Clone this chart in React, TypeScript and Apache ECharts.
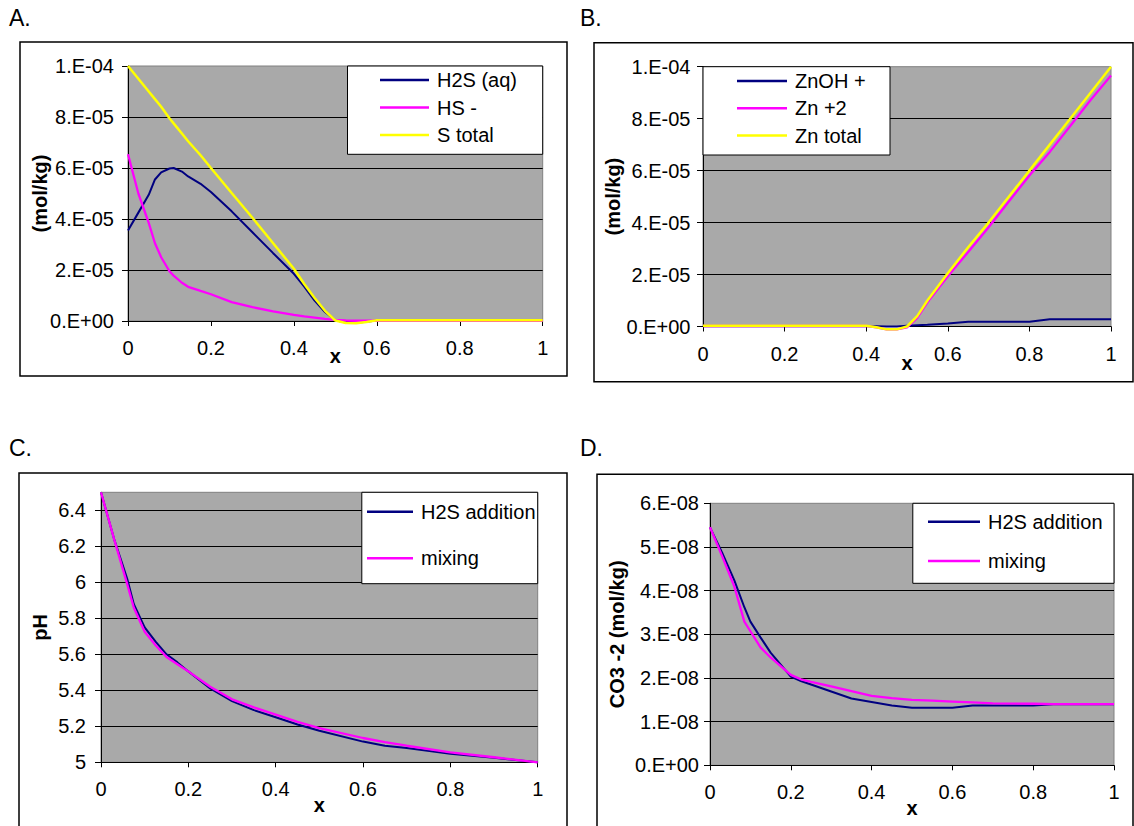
import React, { useEffect, useRef } from "react";
import * as echarts from "echarts";

const FONT = '"Liberation Sans", Arial, Helvetica, sans-serif';

// ---------- Panel A : sulfur species ----------
const aX = [0, 0.025, 0.05, 0.065, 0.08, 0.1, 0.11, 0.13, 0.145, 0.175, 0.2, 0.25, 0.3, 0.35, 0.4, 0.425, 0.45, 0.475, 0.5, 0.525, 0.55, 0.575, 0.6, 0.7, 0.8, 0.9, 1];
const aH2S = [3.55e-5, 4.25e-5, 4.95e-5, 5.55e-5, 5.83e-5, 5.98e-5, 6.0e-5, 5.86e-5, 5.67e-5, 5.38e-5, 5.06e-5, 4.3e-5, 3.48e-5, 2.66e-5, 1.85e-5, 1.35e-5, 8.0e-6, 3.5e-6, 3e-7, -6e-7, -7e-7, -3e-7, 2e-7, 2e-7, 2e-7, 2e-7, 2e-7];
const aHS = [6.54e-5, 5.0e-5, 3.85e-5, 3.05e-5, 2.5e-5, 1.95e-5, 1.78e-5, 1.5e-5, 1.34e-5, 1.18e-5, 1.05e-5, 7.4e-6, 5.4e-6, 3.8e-6, 2.4e-6, 1.8e-6, 1.3e-6, 8e-7, 4e-7, 2e-7, 1e-7, 1e-7, 1e-7, 1e-7, 1e-7, 1e-7, 1e-7];
const aStot = [1.0e-4, 9.5e-5, 9.0e-5, 8.7e-5, 8.4e-5, 7.95e-5, 7.75e-5, 7.35e-5, 7.05e-5, 6.5e-5, 6.0e-5, 5.02e-5, 4.05e-5, 3.05e-5, 2.05e-5, 1.45e-5, 9.0e-6, 4.0e-6, 2e-7, -8e-7, -9e-7, -4e-7, 3e-7, 3e-7, 3e-7, 3e-7, 3e-7];

// ---------- Panel B : zinc species ----------
const bX = [0, 0.1, 0.2, 0.3, 0.4, 0.425, 0.45, 0.475, 0.5, 0.525, 0.55, 0.6, 0.65, 0.7, 0.75, 0.8, 0.85, 0.9, 0.95, 1];
const bZnOH = [1e-7, 1e-7, 1e-7, 1e-7, 1e-7, 5e-8, 0, 0, 3e-7, 5e-7, 7e-7, 1.2e-6, 1.8e-6, 1.8e-6, 1.8e-6, 1.85e-6, 2.8e-6, 2.8e-6, 2.8e-6, 2.8e-6];
const bZn2 = [2e-7, 2e-7, 2e-7, 2e-7, 2e-7, -3e-7, -1.1e-6, -1.1e-6, -3e-7, 3.3e-6, 9.3e-6, 1.93e-5, 2.87e-5, 3.82e-5, 4.82e-5, 5.81e-5, 6.72e-5, 7.72e-5, 8.72e-5, 9.66e-5];
const bZnTot = [3e-7, 3e-7, 3e-7, 3e-7, 3e-7, -3e-7, -1.1e-6, -1.1e-6, 0, 4.0e-6, 1.0e-5, 2.05e-5, 3.05e-5, 4.0e-5, 5.0e-5, 6.0e-5, 7.0e-5, 8.0e-5, 9.0e-5, 1.0e-4];

// ---------- Panel C : pH ----------
const cX = [0, 0.03, 0.06, 0.075, 0.1, 0.125, 0.15, 0.175, 0.2, 0.25, 0.3, 0.35, 0.4, 0.45, 0.5, 0.6, 0.65, 0.7, 0.8, 0.9, 1];
const cH2S = [6.5, 6.24, 6.02, 5.88, 5.75, 5.67, 5.6, 5.555, 5.505, 5.41, 5.34, 5.29, 5.25, 5.21, 5.175, 5.115, 5.092, 5.08, 5.048, 5.025, 5.0];
const cMix = [6.5, 6.24, 5.99, 5.86, 5.725, 5.65, 5.585, 5.545, 5.505, 5.42, 5.35, 5.305, 5.265, 5.225, 5.19, 5.135, 5.112, 5.092, 5.055, 5.028, 5.0];

// ---------- Panel D : CO3 -2 ----------
const dX = [0, 0.03, 0.06, 0.085, 0.1, 0.125, 0.15, 0.2, 0.225, 0.25, 0.3, 0.35, 0.4, 0.45, 0.5, 0.55, 0.6, 0.65, 0.7, 0.8, 0.85, 0.9, 1];
const dH2S = [5.45e-8, 4.87e-8, 4.24e-8, 3.62e-8, 3.29e-8, 2.93e-8, 2.58e-8, 2.03e-8, 1.93e-8, 1.85e-8, 1.69e-8, 1.53e-8, 1.45e-8, 1.37e-8, 1.32e-8, 1.32e-8, 1.32e-8, 1.37e-8, 1.37e-8, 1.37e-8, 1.4e-8, 1.4e-8, 1.4e-8];
const dMix = [5.45e-8, 4.79e-8, 4.1e-8, 3.29e-8, 3.07e-8, 2.7e-8, 2.47e-8, 2.07e-8, 1.97e-8, 1.91e-8, 1.81e-8, 1.7e-8, 1.59e-8, 1.54e-8, 1.5e-8, 1.48e-8, 1.46e-8, 1.44e-8, 1.42e-8, 1.41e-8, 1.4e-8, 1.4e-8, 1.4e-8];

const xTicks = { min: 0, max: 1, interval: 0.2 };

const NAVY = "#000080";
const MAGENTA = "#FF00FF";
const YELLOW = "#FFFF00";
const PLOT_BG = "#A9A9A9";
const TICK_FS = 20;
const LEG_FS = 20;

function pairs(xs: number[], ys: number[]) {
  return xs.map((x, i) => [x, ys[i]]);
}

function sci(v: number): string {
  if (Math.abs(v) < 1e-20) return "0.E+00";
  let e = Math.floor(Math.log10(Math.abs(v)) + 1e-9);
  let m = Math.round(v / Math.pow(10, e));
  if (Math.abs(m) >= 10) {
    m = m / 10;
    e += 1;
  }
  const sign = e < 0 ? "-" : "+";
  return `${m}.E${sign}${String(Math.abs(e)).padStart(2, "0")}`;
}

const grids = [
  { left: 128, top: 66, width: 414.7, height: 255 },
  { left: 703, top: 66.7, width: 408, height: 259.8 },
  { left: 101, top: 492.3, width: 436.7, height: 270 },
  { left: 710, top: 503.3, width: 404, height: 262 },
];

function xAxisFor(i: number, nameGap: number) {
  return {
    type: "value",
    gridIndex: i,
    ...xTicks,
    axisLine: { show: true, onZero: false, lineStyle: { color: "#000", width: 1 } },
    axisTick: { show: true, length: 5, lineStyle: { color: "#000" } },
    axisLabel: { fontSize: TICK_FS, color: "#000", fontFamily: FONT, margin: 17 },
    splitLine: { show: false },
    name: "x",
    nameLocation: "middle",
    nameGap,
    nameMoveOverlap: false,
    nameTextStyle: { fontSize: 20, fontWeight: "bold", color: "#000", fontFamily: FONT },
  };
}

function yAxisFor(i: number, o: any) {
  return {
    type: "value",
    gridIndex: i,
    min: o.min,
    max: o.max,
    interval: o.interval,
    axisLine: { show: true, onZero: false, lineStyle: { color: "#000", width: 1 } },
    axisTick: { show: true, length: 6, lineStyle: { color: "#000" } },
    axisLabel: {
      fontSize: TICK_FS,
      color: "#000",
      fontFamily: FONT,
      margin: o.margin,
      showMaxLabel: o.showMaxLabel !== false,
      formatter: o.formatter,
    },
    splitLine: { show: true, showMaxLine: false, lineStyle: { color: "#000", width: 1 } },
    name: o.name,
    nameLocation: "middle",
    nameRotate: 90,
    nameGap: o.nameGap,
    nameMoveOverlap: false,
    nameTextStyle: { fontSize: 20, fontWeight: "bold", color: "#000", fontFamily: FONT },
  };
}

function line(name: string, i: number, xs: number[], ys: number[], color: string, width = 2) {
  return {
    type: "line",
    name,
    xAxisIndex: i,
    yAxisIndex: i,
    data: pairs(xs, ys),
    symbol: "none",
    clip: false,
    lineStyle: { color, width },
    itemStyle: { color },
  };
}

function legendFor(names: string[], left: number, top: number, itemWidth: number, itemGap: number) {
  return {
    data: names.map((n) => ({ name: n, icon: "rect" })),
    orient: "vertical",
    left,
    top,
    itemWidth,
    itemHeight: 2.5,
    itemGap,
    padding: 0,
    selectedMode: false,
    textStyle: { fontSize: LEG_FS, color: "#000", fontFamily: FONT, padding: [0, 0, 0, 3] },
  };
}

function boxRect(x: number, y: number, w: number, h: number, lw: number, fill: string, z: number) {
  return {
    type: "rect",
    z,
    shape: { x, y, width: w, height: h },
    style: { fill, stroke: "#000", lineWidth: lw },
  };
}

function panelLabel(text: string, x: number, y: number) {
  return {
    type: "text",
    x,
    y,
    style: { text, fontSize: 23, fontFamily: FONT, fill: "#000", verticalAlign: "middle", align: "left" },
  };
}

export default function App() {
  const ref = useRef<HTMLDivElement>(null);

  useEffect(() => {
    if (!ref.current) return;
    const chart = echarts.init(ref.current, undefined, { renderer: "svg" });
    const option: any = {
      animation: false,
      textStyle: { fontFamily: FONT },
      grid: grids.map((g) => ({
        ...g,
        show: true,
        backgroundColor: PLOT_BG,
        borderColor: "#808080",
        borderWidth: 1,
        containLabel: false,
      })),
      xAxis: [xAxisFor(0, 25), xAxisFor(1, 26), xAxisFor(2, 32.5), xAxisFor(3, 33)],
      yAxis: [
        yAxisFor(0, { min: 0, max: 1e-4, interval: 2e-5, margin: 14, formatter: sci, name: "(mol/kg)", nameGap: 78.5 }),
        yAxisFor(1, { min: 0, max: 1e-4, interval: 2e-5, margin: 12.5, formatter: sci, name: "(mol/kg)", nameGap: 80 }),
        yAxisFor(2, { min: 5, max: 6.5, interval: 0.2, margin: 15, showMaxLabel: false, name: "pH", nameGap: 51.5 }),
        yAxisFor(3, { min: 0, max: 6e-8, interval: 1e-8, margin: 11, formatter: sci, name: "CO3 -2 (mol/kg)", nameGap: 83 }),
      ],
      legend: [
        legendFor(["H2S (aq)", "HS -", "S total"], 380, 70, 49, 7.5),
        legendFor(["ZnOH +", "Zn +2", "Zn total"], 737, 71, 50, 7.3),
        legendFor(["H2S addition", "mixing"], 367, 501.7, 46, 26.6),
        legendFor(["H2S addition", "mixing"], 928, 511.7, 52, 19.3),
      ],
      graphic: [
        boxRect(20, 42, 547, 334, 1.5, "none", 0),
        boxRect(594, 42.7, 539, 339, 1.5, "none", 0),
        boxRect(19, 473, 548, 400, 1.5, "none", 0),
        boxRect(597, 474.3, 536, 400, 1.5, "none", 0),
        boxRect(347.5, 66, 195.2, 88.3, 1, "#fff", 3),
        boxRect(703, 66.7, 187, 88.3, 1, "#fff", 3),
        boxRect(361.8, 492.3, 175.9, 91.4, 1, "#fff", 3),
        boxRect(912.8, 503.3, 201.2, 80, 1, "#fff", 3),
        panelLabel("A.", 9, 18),
        panelLabel("B.", 580, 18),
        panelLabel("C.", 9, 448),
        panelLabel("D.", 580, 448),
      ],
      series: [
        line("H2S (aq)", 0, aX, aH2S, NAVY, 2),
        line("HS -", 0, aX, aHS, MAGENTA, 2.3),
        line("S total", 0, aX, aStot, YELLOW, 2.5),
        line("ZnOH +", 1, bX, bZnOH, NAVY, 2),
        line("Zn +2", 1, bX, bZn2, MAGENTA, 2.3),
        line("Zn total", 1, bX, bZnTot, YELLOW, 2.5),
        line("H2S addition", 2, cX, cH2S, NAVY, 2),
        line("mixing", 2, cX, cMix, MAGENTA, 2.3),
        line("H2S addition", 3, dX, dH2S, NAVY, 2),
        line("mixing", 3, dX, dMix, MAGENTA, 2.3),
      ],
    };
    chart.setOption(option);
    return () => chart.dispose();
  }, []);

  return (
    <div
      ref={ref}
      style={{ position: "absolute", left: 0, top: 0, width: 1134, height: 826, background: "#fff" }}
    />
  );
}
